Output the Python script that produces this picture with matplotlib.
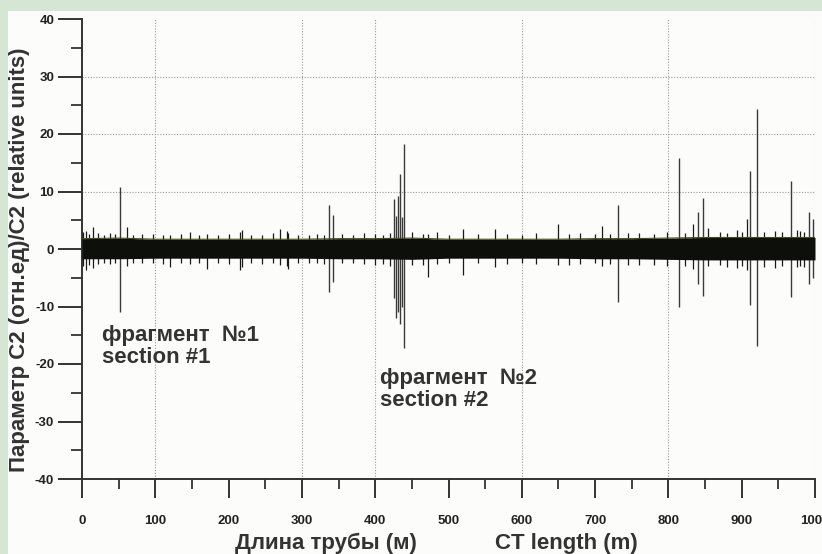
import matplotlib
matplotlib.use("Agg")
import matplotlib.pyplot as plt
from matplotlib.patches import Rectangle

plt.rcParams['font.family'] = ['Liberation Sans', 'DejaVu Sans']
plt.rcParams['axes.unicode_minus'] = False

# ---------------- data ----------------
# envelope of the dense noise band
band_x = [0, 50, 100, 150, 200, 250, 300, 350, 400, 450, 500, 550, 600, 650, 700, 750, 800, 850, 900, 950, 1000]
band_hi = [1.8, 1.9, 1.7, 1.7, 1.7, 1.7, 1.7, 1.8, 1.8, 1.9, 1.7, 1.7, 1.7, 1.7, 1.8, 1.8, 1.9, 2.0, 2.0, 2.0, 2.0]
band_lo = [-1.7, -1.7, -1.6, -1.6, -1.6, -1.6, -1.6, -1.7, -1.7, -1.8, -1.6, -1.6, -1.6, -1.6, -1.7, -1.7, -1.8, -1.9, -1.9, -1.9, -1.9]

# small excursions forming the fuzzy edge of the band
small_x = [2, 5, 9, 15, 22, 30, 38, 45, 61, 70, 82, 97, 110, 120, 135, 147, 160, 170, 185,
           200, 216, 218, 230, 245, 260, 270, 279, 281, 295, 310, 320, 330, 355, 370, 385,
           400, 410, 420, 450, 465, 472, 484, 500, 520, 540, 563, 580, 600, 620, 649, 665,
           680, 700, 709, 720, 745, 760, 780, 798, 822, 834, 854, 870, 880, 893, 900, 907,
           930, 945, 955, 975, 980, 985]
small_hi = [3.0, 3.2, 2.6, 3.8, 2.8, 2.5, 2.7, 2.6, 3.8, 2.5, 2.6, 2.6, 2.4, 2.5, 2.6, 2.9, 2.4, 2.6, 2.5,
            2.6, 2.9, 3.3, 2.5, 2.4, 2.7, 3.5, 3.2, 2.8, 2.5, 2.4, 2.6, 2.5, 2.6, 2.4, 2.8,
            2.6, 2.5, 2.7, 2.9, 2.6, 2.6, 2.9, 2.5, 3.5, 2.6, 3.4, 2.6, 2.5, 2.7, 4.3, 2.6,
            2.7, 2.6, 4.0, 2.6, 2.7, 2.8, 2.6, 2.9, 2.8, 4.3, 3.6, 2.9, 2.8, 3.3, 3.0, 5.2,
            3.0, 3.2, 2.9, 3.3, 3.1, 3.0]
small_lo = [-3.0, -3.7, -2.8, -3.3, -2.6, -2.4, -2.6, -2.5, -3.0, -2.5, -2.4, -2.5, -2.6, -3.2, -2.5, -2.6, -2.4, -3.5, -2.5,
            -2.6, -3.7, -3.2, -2.5, -2.6, -2.5, -2.7, -2.9, -3.4, -2.5, -2.4, -2.5, -2.6, -2.4, -2.5, -2.6,
            -2.7, -2.6, -3.0, -2.7, -2.8, -4.9, -2.6, -2.5, -4.6, -2.5, -3.2, -2.6, -2.5, -2.6, -2.8, -2.7,
            -2.6, -2.5, -3.0, -2.6, -2.7, -2.8, -2.7, -2.9, -3.0, -3.5, -3.0, -2.8, -3.2, -3.3, -2.9, -3.6,
            -3.1, -3.3, -2.9, -3.2, -3.0, -3.2]

# large spikes
spike_x = [52, 337, 343, 425, 428, 431, 434, 437, 439, 731, 815, 840, 847, 911, 921, 967, 992, 997]
spike_hi = [10.7, 7.6, 6.0, 8.7, 5.8, 9.2, 13.1, 5.5, 18.2, 7.6, 15.9, 6.4, 8.8, 13.5, 24.4, 11.9, 6.4, 5.2]
spike_lo = [-11.0, -7.4, -5.7, -8.5, -12.0, -11.0, -13.0, -10.0, -17.3, -9.2, -10.0, -6.0, -8.2, -9.8, -16.8, -8.3, -6.0, -5.0]

x_ticks = [0, 100, 200, 300, 400, 500, 600, 700, 800, 900, 1000]
x_tick_labels = ['0', '100', '200', '300', '400', '500', '600', '700', '800', '900', '1000']
y_ticks = [-40, -30, -20, -10, 0, 10, 20, 30, 40]
x_grid = [100, 300, 400, 600, 800, 1000]
y_grid = [10, 20, 30]

label1 = "фрагмент  №1\nsection #1"
label2 = "фрагмент  №2\nsection #2"
xlabel_ru = "Длина трубы (м)"
xlabel_en = "CT length (m)"
ylabel = "Параметр C2 (отн.ед)/C2 (relative units)"

# ---------------- figure ----------------
fig = plt.figure(figsize=(8.22, 5.54), dpi=100, facecolor='#d6e6d4')
bg = Rectangle((8 / 822, 0), 1 - 8 / 822, 1 - 11 / 554,
               transform=fig.transFigure, facecolor='#fcfdfb',
               edgecolor='none', zorder=-10)
fig.add_artist(bg)

ax = fig.add_axes([82 / 822, 1 - 479 / 554, (815 - 82) / 822, (479 - 19) / 554])
ax.set_zorder(1)
ax.set_facecolor('none')
ax.set_xlim(0, 1000)
ax.set_ylim(-40, 40)

for gx in x_grid:
    ax.axvline(gx, color='#9a9a9a', lw=0.8, ls=(0, (1, 1.5)), zorder=1)
for gy in y_grid:
    ax.axhline(gy, color='#9a9a9a', lw=0.8, ls=(0, (1, 1.5)), zorder=1)

ax.vlines(spike_x, spike_lo, spike_hi, colors='#3a3a3a', lw=1.0, zorder=2)
ax.vlines(small_x, small_lo, small_hi, colors='#1a1a1a', lw=0.9, zorder=3)
ax.fill_between(band_x, band_lo, band_hi, color='#0d0f0a', lw=0, zorder=4)
ax.plot(band_x, band_hi, color='#4a4a20', lw=0.8, zorder=4)

for s in ['top', 'right']:
    ax.spines[s].set_visible(False)
for s in ['left', 'bottom']:
    ax.spines[s].set_linewidth(1.4)
    ax.spines[s].set_color('#333333')

ax.set_xticks(x_ticks)
ax.set_xticklabels(x_tick_labels)
ax.set_xticks(range(50, 1000, 100), minor=True)
ax.set_yticks(y_ticks)
ax.set_yticks(range(-35, 40, 10), minor=True)
ax.tick_params(axis='x', which='major', direction='out', length=14, width=1.4, color='#333333', pad=12)
ax.tick_params(axis='x', which='minor', direction='out', length=7, width=1.3, color='#333333')
ax.tick_params(axis='y', which='major', direction='out', length=17, width=1.4, color='#333333', pad=3)
ax.tick_params(axis='y', which='minor', direction='out', length=8, width=1.3, color='#333333')
for lab in ax.get_xticklabels() + ax.get_yticklabels():
    lab.set_fontweight('bold')
    lab.set_fontsize(9.5)
    lab.set_color('#222222')

ax.text(27, -13.2, label1, fontsize=16, fontweight='bold', color='#333333',
        va='top', ha='left', linespacing=1.05)
ax.text(406, -20.7, label2, fontsize=16, fontweight='bold', color='#333333',
        va='top', ha='left', linespacing=1.05)

fig.text(326 / 822, 1 - 543 / 554, xlabel_ru, fontsize=16, fontweight='bold',
         color='#333333', ha='center', va='center')
fig.text(566 / 822, 1 - 543 / 554, xlabel_en, fontsize=16, fontweight='bold',
         color='#333333', ha='center', va='center')
fig.text(20 / 822, 1 - 260 / 554, ylabel, fontsize=16, fontweight='bold',
         color='#333333', ha='center', va='center', rotation=90)

fig.savefig('out.png', dpi=100, facecolor=fig.get_facecolor())
